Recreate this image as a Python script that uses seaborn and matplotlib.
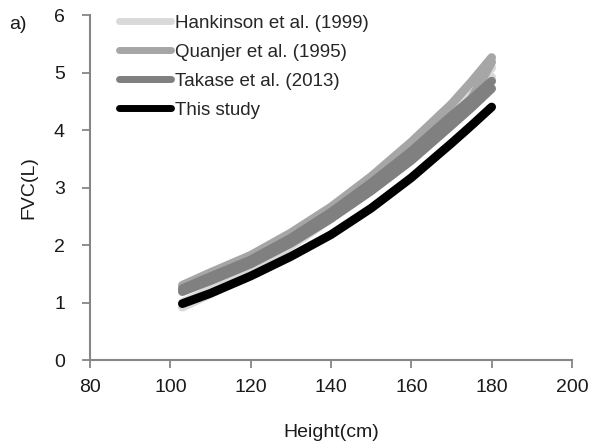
import pandas as pd
import matplotlib.pyplot as plt
import seaborn as sns
from matplotlib.lines import Line2D

height = [103, 110, 120, 130, 140, 150, 160, 170, 175, 180]

# FVC (L) band edges for each reference equation, plus this study
hank_low = [0.92, 1.15, 1.50, 1.98, 2.46, 3.02, 3.60, 4.25, 4.57, 4.92]
hank_high = [1.00, 1.22, 1.58, 2.06, 2.55, 3.12, 3.72, 4.38, 4.72, 5.08]
quan_low = [1.21, 1.41, 1.70, 2.07, 2.50, 3.00, 3.55, 4.18, 4.55, 5.18]
quan_high = [1.30, 1.52, 1.82, 2.21, 2.66, 3.19, 3.79, 4.45, 4.84, 5.26]
taka_low = [1.19, 1.38, 1.67, 2.03, 2.46, 2.94, 3.47, 4.08, 4.39, 4.72]
taka_high = [1.24, 1.45, 1.74, 2.12, 2.57, 3.08, 3.63, 4.25, 4.54, 4.85]
this_study = [0.98, 1.16, 1.46, 1.80, 2.18, 2.64, 3.17, 3.77, 4.08, 4.40]

labels = ['Hankinson et al. (1999)', 'Quanjer et al. (1995)', 'Takase et al. (2013)', 'This study']
colors = ['#d9d9d9', '#a6a6a6', '#808080', '#000000']

sns.set_style('white')
plt.rcParams['font.family'] = ['Liberation Sans', 'DejaVu Sans']
txt = '#1a1a1a'

fig = plt.figure(figsize=(5.89, 4.48), dpi=100)
ax = fig.add_axes([0.1528, 0.1964, 0.8183, 0.7701])

lw = 6.3
bands = [(hank_low, hank_high), (quan_low, quan_high), (taka_low, taka_high)]
for (low, high), c in zip(bands, colors[:3]):
    ax.fill_between(height, low, high, color=c, lw=0)
    sns.lineplot(x=height, y=low, color=c, linewidth=lw, solid_capstyle='round', ax=ax)
    sns.lineplot(x=height, y=high, color=c, linewidth=lw, solid_capstyle='round', ax=ax)
sns.lineplot(x=height, y=this_study, color=colors[3], linewidth=lw, solid_capstyle='round', ax=ax)

ax.set_xlim(80, 200)
ax.set_ylim(0, 6)
ax.set_xticks(range(80, 201, 20))
ax.set_yticks(range(0, 7))
ax.set_xlabel('Height(cm)', fontsize=14, labelpad=20, color=txt)
ax.set_ylabel('FVC(L)', fontsize=14, labelpad=12, color=txt)
ax.tick_params(axis='both', bottom=True, left=True, labelsize=14, length=6, width=1.3,
               color='#868686', labelcolor=txt, direction='out')
ax.tick_params(axis='x', pad=8)
ax.tick_params(axis='y', pad=12)
sns.despine(ax=ax)
for s in ['left', 'bottom']:
    ax.spines[s].set_color('#868686')
    ax.spines[s].set_linewidth(1.5)

handles = [Line2D([], [], color=c, lw=5, solid_capstyle='round') for c in colors]
ax.legend(handles, labels, loc='upper left', bbox_to_anchor=(0.045, 1.023), frameon=False,
          fontsize=13.5, handlelength=2.75, handletextpad=0.2, labelspacing=0.63, borderaxespad=0)

fig.text(0.015, 0.935, 'a)', fontsize=14, color=txt)

fig.savefig('out.png', dpi=100)
